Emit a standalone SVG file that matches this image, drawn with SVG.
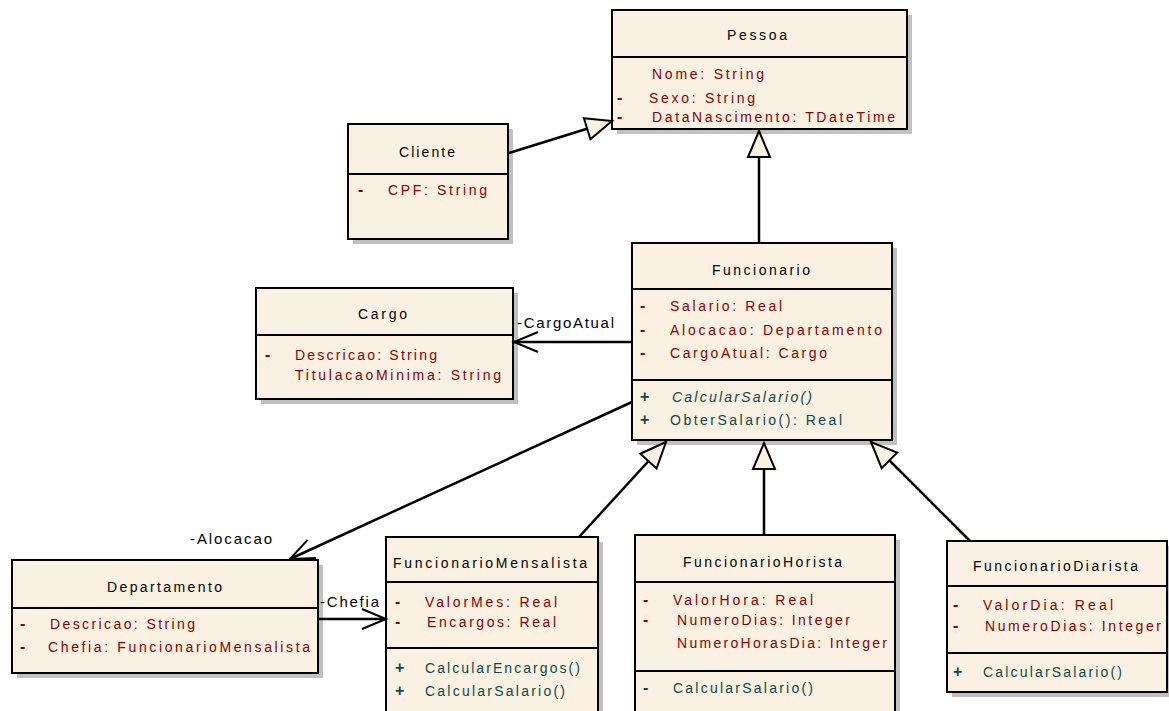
<svg xmlns="http://www.w3.org/2000/svg" width="1169" height="711" viewBox="0 0 1169 711">
<style>
.shadow{fill:#c0c0c0}
.body{fill:#fbf1e3;stroke:#000;stroke-width:2}
.sep{stroke:#000;stroke-width:2}
text{font-family:"Liberation Sans",Arial,sans-serif;font-size:14px}
.title{fill:#000}
.attr{fill:#8b0000}
.meth{fill:#0b4a4a}
.mk{font-size:16px;font-weight:bold}
.ital{font-style:italic}
.lbl{fill:#000;font-size:15px}
.conn{fill:none;stroke:#000;stroke-width:2.5}
</style>
<defs>
<marker id="gen" markerUnits="userSpaceOnUse" viewBox="-3 -3 32 28" markerWidth="32" markerHeight="28" refX="26" refY="11" orient="auto">
<path d="M0,0 L26,11 L0,22 Z" fill="#fbf1e3" stroke="#000" stroke-width="2"/>
</marker>
<marker id="open" markerUnits="userSpaceOnUse" viewBox="-3 -3 30 26" markerWidth="30" markerHeight="26" refX="24" refY="10" orient="auto">
<path d="M0,0 L24,10 L0,20" fill="none" stroke="#000" stroke-width="2"/>
</marker>
</defs>
<rect width="1169" height="711" fill="#fff"/>

<g id="Pessoa">
<rect class="shadow" x="617" y="15" width="295" height="119"/>
<rect class="body" x="612" y="10" width="295" height="119"/>
<line class="sep" x1="612" y1="57" x2="907" y2="57"/>
<text class="title" x="727" y="40" textLength="60">Pessoa</text>
<text class="attr" x="652" y="79" textLength="112">Nome: String</text>
<text class="attr mk" x="617" y="103">-</text>
<text class="attr" x="649" y="103" textLength="106">Sexo: String</text>
<text class="attr mk" x="617" y="122">-</text>
<text class="attr" x="652" y="122" textLength="243">DataNascimento: TDateTime</text>
</g>

<g id="Cliente">
<rect class="shadow" x="353" y="129" width="160" height="115"/>
<rect class="body" x="348" y="124" width="160" height="115"/>
<line class="sep" x1="348" y1="174" x2="508" y2="174"/>
<text class="title" x="399" y="157" textLength="56">Cliente</text>
<text class="attr mk" x="358" y="195">-</text>
<text class="attr" x="388" y="195" textLength="99">CPF: String</text>
</g>

<g id="Funcionario">
<rect class="shadow" x="637" y="248" width="260" height="197"/>
<rect class="body" x="632" y="243" width="260" height="197"/>
<line class="sep" x1="632" y1="289" x2="892" y2="289"/>
<line class="sep" x1="632" y1="380" x2="892" y2="380"/>
<text class="title" x="712" y="275" textLength="98">Funcionario</text>
<text class="attr mk" x="640" y="311">-</text>
<text class="attr" x="670" y="311" textLength="112">Salario: Real</text>
<text class="attr mk" x="640" y="335">-</text>
<text class="attr" x="670" y="335" textLength="212">Alocacao: Departamento</text>
<text class="attr mk" x="640" y="358">-</text>
<text class="attr" x="670" y="358" textLength="157">CargoAtual: Cargo</text>
<text class="meth mk" x="640" y="402">+</text>
<text class="meth ital" x="672" y="402" textLength="140">CalcularSalario()</text>
<text class="meth mk" x="640" y="425">+</text>
<text class="meth" x="670" y="425" textLength="172">ObterSalario(): Real</text>
</g>

<g id="Cargo">
<rect class="shadow" x="261" y="293" width="257" height="111"/>
<rect class="body" x="256" y="288" width="257" height="111"/>
<line class="sep" x1="256" y1="335" x2="513" y2="335"/>
<text class="title" x="358" y="319" textLength="49">Cargo</text>
<text class="attr mk" x="265" y="360">-</text>
<text class="attr" x="295" y="360" textLength="142">Descricao: String</text>
<text class="attr" x="295" y="380" textLength="206">TitulacaoMinima: String</text>
</g>

<g id="Departamento">
<rect class="shadow" x="17" y="565" width="306" height="113"/>
<rect class="body" x="12" y="560" width="306" height="113"/>
<line class="sep" x1="12" y1="608" x2="318" y2="608"/>
<text class="title" x="107" y="592" textLength="115">Departamento</text>
<text class="attr mk" x="20" y="629">-</text>
<text class="attr" x="50" y="629" textLength="145">Descricao: String</text>
<text class="attr mk" x="20" y="652">-</text>
<text class="attr" x="48" y="652" textLength="262">Chefia: FuncionarioMensalista</text>
</g>

<g id="FuncionarioMensalista">
<rect class="shadow" x="391" y="542" width="212" height="180"/>
<rect class="body" x="386" y="537" width="212" height="180"/>
<line class="sep" x1="386" y1="582" x2="598" y2="582"/>
<line class="sep" x1="386" y1="648" x2="598" y2="648"/>
<text class="title" x="393" y="568" textLength="194">FuncionarioMensalista</text>
<text class="attr mk" x="395" y="607">-</text>
<text class="attr" x="425" y="607" textLength="132">ValorMes: Real</text>
<text class="attr mk" x="395" y="627">-</text>
<text class="attr" x="427" y="627" textLength="129">Encargos: Real</text>
<text class="meth mk" x="395" y="673">+</text>
<text class="meth" x="425" y="673" textLength="155">CalcularEncargos()</text>
<text class="meth mk" x="395" y="696">+</text>
<text class="meth" x="425" y="696" textLength="140">CalcularSalario()</text>
</g>

<g id="FuncionarioHorista">
<rect class="shadow" x="640" y="540" width="260" height="182"/>
<rect class="body" x="635" y="535" width="260" height="182"/>
<line class="sep" x1="635" y1="582" x2="895" y2="582"/>
<line class="sep" x1="635" y1="671" x2="895" y2="671"/>
<text class="title" x="683" y="567" textLength="159">FuncionarioHorista</text>
<text class="attr mk" x="643" y="605">-</text>
<text class="attr" x="673" y="605" textLength="140">ValorHora: Real</text>
<text class="attr mk" x="643" y="625">-</text>
<text class="attr" x="677" y="625" textLength="173">NumeroDias: Integer</text>
<text class="attr" x="677" y="648" textLength="210">NumeroHorasDia: Integer</text>
<text class="meth mk" x="643" y="693">-</text>
<text class="meth" x="673" y="693" textLength="140">CalcularSalario()</text>
</g>

<g id="FuncionarioDiarista">
<rect class="shadow" x="952" y="546" width="220" height="151"/>
<rect class="body" x="947" y="541" width="220" height="151"/>
<line class="sep" x1="947" y1="586" x2="1167" y2="586"/>
<line class="sep" x1="947" y1="653" x2="1167" y2="653"/>
<text class="title" x="973" y="571" textLength="165">FuncionarioDiarista</text>
<text class="attr mk" x="953" y="610">-</text>
<text class="attr" x="983" y="610" textLength="130">ValorDia: Real</text>
<text class="attr mk" x="953" y="631">-</text>
<text class="attr" x="985" y="631" textLength="176">NumeroDias: Integer</text>
<text class="meth mk" x="953" y="677">+</text>
<text class="meth" x="983" y="677" textLength="139">CalcularSalario()</text>
</g>

<g id="connectors">
<path class="conn" d="M509,153 L612,121" marker-end="url(#gen)"/>
<path class="conn" d="M759,243 L759,131" marker-end="url(#gen)"/>
<path class="conn" d="M632,342 L514,342" marker-end="url(#open)"/>
<path class="conn" d="M632,402 L290,559" marker-end="url(#open)"/>
<path class="conn" d="M318,619 L386,619" marker-end="url(#open)"/>
<path class="conn" d="M579,537 L666,442" marker-end="url(#gen)"/>
<path class="conn" d="M764,535 L764,443" marker-end="url(#gen)"/>
<path class="conn" d="M970,541 L871,442" marker-end="url(#gen)"/>
<text class="lbl" x="517" y="328" textLength="97">-CargoAtual</text>
<text class="lbl" x="190" y="544" textLength="82">-Alocacao</text>
<text class="lbl" x="320" y="607" textLength="59">-Chefia</text>
</g>
</svg>
